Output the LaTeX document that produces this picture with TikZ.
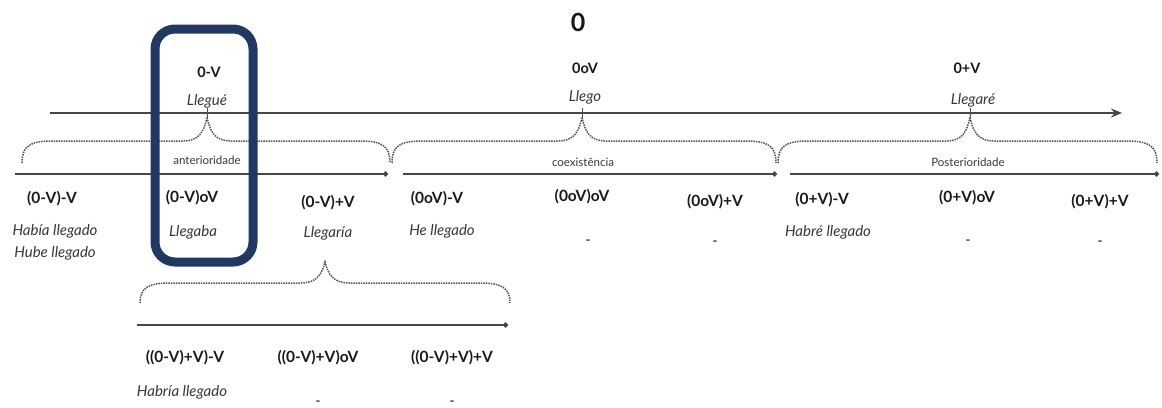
\documentclass[tikz,border=0pt]{standalone}
\usepackage{fontspec}
\setmainfont{Lato}
\usetikzlibrary{arrows.meta}
\definecolor{navy}{RGB}{31,56,100}
\definecolor{ink}{RGB}{25,25,25}
\definecolor{soft}{RGB}{55,55,55}
\tikzset{
  big/.style={font=\bfseries\fontsize{25}{27}\selectfont, text=ink},
  formula/.style={font=\bfseries\fontsize{15.5}{17}\selectfont, text=ink, inner sep=0pt},
  topformula/.style={font=\bfseries\fontsize{14.5}{16}\selectfont, text=ink, inner sep=0pt},
  verb/.style={font=\itshape\fontsize{15}{17}\selectfont, text=soft, inner sep=0pt},
  zone/.style={font=\fontsize{11.5}{13}\selectfont, text=soft, inner sep=0pt},
  nil/.style={font=\bfseries\fontsize{13}{15}\selectfont, text=soft, inner sep=0pt},
  mainline/.style={line width=2.6pt, draw=black!72, -{Stealth[length=11pt,width=9pt]}},
  subline/.style={line width=1.6pt, draw=black!72, -{Circle[length=5pt]}},
  bracket/.style={densely dotted, line width=1.5pt, draw=black!68},
  tick/.style={line width=1pt, draw=black!70},
  frame/.style={line width=9pt, draw=navy, rounded corners=20pt}
}
% dotted curly brace: left x, tip x, right x, end y, top y, tip y
\newcommand{\zonebrace}[6]{%
  \draw[bracket] (#1,#4) .. controls (#1,#5+5) and (#1+8,#5) .. (#1+30,#5)
    -- (#2-24,#5) .. controls (#2-8,#5) and (#2-3,#5-9) .. (#2,#6)
    .. controls (#2+3,#5-9) and (#2+8,#5) .. (#2+24,#5)
    -- (#3-30,#5) .. controls (#3-8,#5) and (#3,#5+5) .. (#3,#4);}
\begin{document}
\begin{tikzpicture}[x=1pt,y=-1pt]
\useasboundingbox (0,0) rectangle (1162,407);

% reference point
\node[big] (zero) at (578,22) {0};

% absolute tenses above the main axis
\node[topformula] (f1) at (209,72) {0-V};
\node[verb] (v1) at (207,101) {Llegué};
\node[topformula] (f2) at (585,68) {0oV};
\node[verb] (v2) at (585,97) {Llego};
\node[topformula] (f3) at (967,68) {0+V};
\node[verb] (v3) at (973,100) {Llegaré};

% main time axis
\coordinate (mstart) at (50,113);
\coordinate (mend) at (1122,113);
\draw[mainline] (mstart) -- (mend);
\coordinate (p1) at (207,113);
\coordinate (p2) at (582,113);
\coordinate (p3) at (970,113);
\foreach \p in {p1,p2,p3}{
  \draw[tick] ([yshift=-4pt]\p) -- ([yshift=5pt]\p);
}

% braces grouping each relative zone
\zonebrace{22}{207}{390}{163}{141}{117}
\zonebrace{392}{582}{776}{163}{141}{117}
\zonebrace{778}{970}{1157}{163}{141}{117}

\node[zone] (z1) at (207,160) {anterioridade};
\node[zone] (z2) at (583,162) {coexistência};
\node[zone] (z3) at (968,162) {Posterioridade};

% secondary axes
\coordinate (a1) at (15,174);   \coordinate (a2) at (388,174);
\coordinate (b1) at (403,174);  \coordinate (b2) at (777,174);
\coordinate (c1) at (790,174);  \coordinate (c2) at (1159,174);
\draw[subline] (a1) -- (a2);
\draw[subline] (b1) -- (b2);
\draw[subline] (c1) -- (c2);

% relative tenses
\node[formula] (r1) at (52,199) {(0-V)-V};
\node[formula] (r2) at (192,198) {(0-V)oV};
\node[formula] (r3) at (328,203) {(0-V)+V};
\node[formula] (r4) at (437,199) {(0oV)-V};
\node[formula] (r5) at (582,197) {(0oV)oV};
\node[formula] (r6) at (715,202) {(0oV)+V};
\node[formula] (r7) at (822,200) {(0+V)-V};
\node[formula] (r8) at (967,198) {(0+V)oV};
\node[formula] (r9) at (1100,202) {(0+V)+V};

\node[verb] (w1) at (55,231) {Había llegado};
\node[verb] (w1b) at (55,253) {Hube llegado};
\node[verb] (w2) at (193,232) {Llegaba};
\node[verb] (w3) at (328,233) {Llegaría};
\node[verb] (w4) at (442,231) {He llegado};
\node[nil] (w5) at (588,242) {-};
\node[nil] (w6) at (715,243) {-};
\node[verb] (w7) at (828,232) {Habré llegado};
\node[nil] (w8) at (968,242) {-};
\node[nil] (w9) at (1100,243) {-};

% third level: future in the past
\zonebrace{140}{325}{510}{303}{283}{262}
\coordinate (d1) at (137,325);  \coordinate (d2) at (508,325);
\draw[subline] (d1) -- (d2);
\node[formula] (s1) at (185,358) {((0-V)+V)-V};
\node[formula] (s2) at (318,358) {((0-V)+V)oV};
\node[formula] (s3) at (452,358) {((0-V)+V)+V};
\node[verb] (u1) at (182,392) {Habría llegado};
\node[nil] (u2) at (318,403) {-};
\node[nil] (u3) at (452,403) {-};

% highlight frame
\draw[frame] (155,29) rectangle (253,262);
\end{tikzpicture}
\end{document}
